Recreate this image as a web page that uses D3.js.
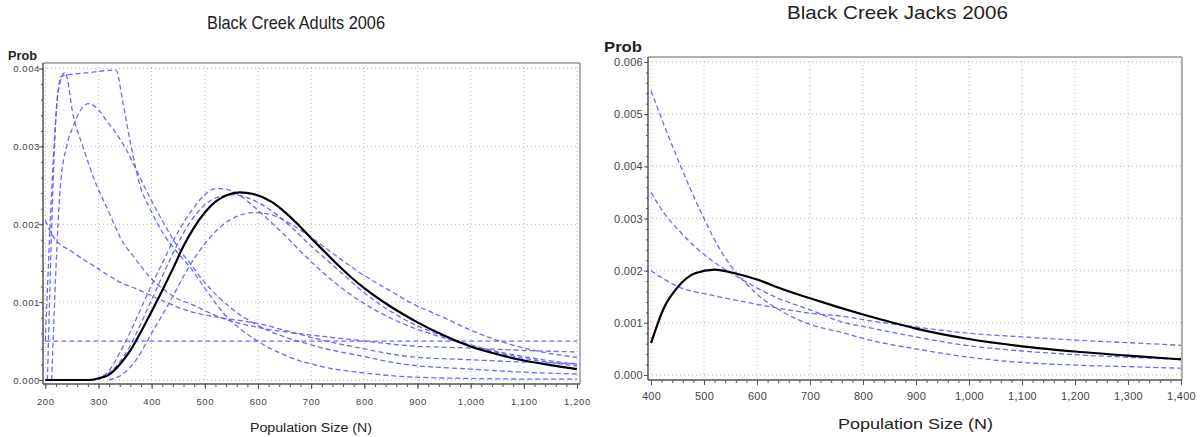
<!DOCTYPE html>
<html><head><meta charset="utf-8">
<script src="https://cdn.jsdelivr.net/npm/d3@7"></script>
<style>body{margin:0;background:#fff}svg{display:block}text{font-family:"Liberation Sans",Arial,sans-serif}</style>
</head><body>
<svg id="c" width="1200" height="437"></svg>
<script>
// ---------- DATA ----------
const titles = ["Black Creek Adults 2006", "Black Creek Jacks 2006"];
const yLabel = "Prob";
const xLabel = "Population Size (N)";

const adultsXTicks = [200,300,400,500,600,700,800,900,1000,1100,1200];
const adultsYTicks = [0,0.001,0.002,0.003,0.004];
const jacksXTicks = [400,500,600,700,800,900,1000,1100,1200,1300,1400];
const jacksYTicks = [0,0.001,0.002,0.003,0.004,0.005,0.006];

// posterior (black solid) - Adults
const adultsPosterior = [[200,0],[280,0],[300,0.00002],[320,0.00007],[340,0.0002],[360,0.00038],[380,0.00062],[400,0.00088],[420,0.00115],[440,0.00143],[460,0.00172],[480,0.00196],[500,0.00215],[520,0.00229],[540,0.00237],[566,0.00241],[590,0.00239],[625,0.00229],[650,0.00216],[675,0.002],[700,0.00182],[725,0.00165],[750,0.00148],[775,0.00132],[800,0.00118],[850,0.00094],[900,0.00074],[950,0.00057],[1000,0.00043],[1050,0.00033],[1100,0.00025],[1150,0.00019],[1200,0.00014]];

// priors / individual curves (blue dashed) - Adults
const adultsUniform = [[200,0.0005],[1200,0.0005]];
const adultsFlatTop = [[200,0.0005],[230,0.0039],[285,0.00395],[333,0.00398],[345,0.0036],[360,0.00305],[378,0.0025],[397,0.0022],[420,0.0019],[453,0.0016],[472,0.00145],[500,0.00118],[535,0.00086],[597,0.00051],[650,0.00032],[722,0.00017],[800,0.00009],[885,0.00004],[1000,0.00002],[1100,0.000012],[1200,0.00001]];
const adultsSpike = [[204,0],[224,0.0037],[237,0.00395],[253,0.00338],[271,0.00299],[293,0.00256],[320,0.00215],[341,0.00183],[370,0.00155],[397,0.00132],[425,0.00115],[453,0.00103],[472,0.00098],[530,0.0008],[597,0.00068],[660,0.00061],[722,0.00056],[800,0.0005],[885,0.00044],[1000,0.00041],[1100,0.00038],[1200,0.00036]];
const adultsEarlyPeak = [[212,0],[228,0.00246],[240,0.003],[252,0.00325],[265,0.00345],[281,0.00355],[300,0.00347],[315,0.00333],[335,0.00315],[353,0.00295],[378,0.0026],[400,0.0023],[428,0.00195],[453,0.00167],[472,0.0015],[500,0.00125],[550,0.00092],[600,0.0007],[700,0.00045],[800,0.0003],[867,0.00021],[1000,0.00014],[1100,0.0001],[1200,0.000077]];
const adultsDecline = [[200,0.00205],[214,0.00185],[252,0.00164],[297,0.00144],[334,0.00128],[378,0.00115],[410,0.00105],[472,0.00088],[530,0.0008],[597,0.00073],[660,0.00062],[722,0.00051],[800,0.0004],[885,0.0003],[1000,0.00026],[1100,0.00023],[1200,0.00021]];
const adultsBellA = [[280,0],[300,0.00003],[320,0.00012],[340,0.00035],[360,0.00062],[380,0.00092],[400,0.00122],[420,0.0015],[440,0.00178],[460,0.00202],[480,0.00222],[500,0.00238],[522,0.00246],[545,0.00244],[570,0.00235],[600,0.00218],[650,0.00186],[700,0.00152],[750,0.00122],[800,0.00098],[867,0.00074],[950,0.00054],[1000,0.00044],[1100,0.00028],[1200,0.00018]];
const adultsBellB = [[290,0],[310,0.00005],[330,0.00015],[350,0.00033],[370,0.00058],[390,0.00088],[410,0.00118],[430,0.00148],[450,0.00176],[470,0.002],[500,0.00225],[530,0.00236],[555,0.00238],[580,0.00234],[620,0.0022],[660,0.00198],[700,0.00172],[750,0.00142],[800,0.00112],[867,0.00081],[950,0.00056],[1000,0.00045],[1100,0.0003],[1200,0.0002]];
const adultsBellC = [[320,0],[340,0.00005],[370,0.00025],[400,0.0006],[434,0.001],[470,0.00145],[500,0.00175],[530,0.00197],[560,0.0021],[591,0.00215],[620,0.00213],[660,0.00201],[700,0.00183],[750,0.00158],[800,0.00134],[850,0.00114],[885,0.001],[950,0.0008],[1000,0.00064],[1050,0.00051],[1100,0.00041],[1150,0.00034],[1200,0.00029]];

// posterior (black solid) - Jacks
const jacksPosterior = [[400,0.00061],[425,0.0013],[450,0.00168],[483,0.00195],[520,0.00202],[558,0.00195],[600,0.00183],[650,0.00164],[700,0.00147],[750,0.00131],[800,0.00116],[850,0.00102],[900,0.00089],[1000,0.00069],[1100,0.00055],[1200,0.00045],[1300,0.00037],[1400,0.0003]];
// priors (blue dashed) - Jacks
const jacksSteep = [[400,0.00545],[425,0.00478],[450,0.00415],[475,0.00355],[500,0.003],[525,0.0025],[550,0.0021],[575,0.0018],[600,0.00155],[650,0.0012],[700,0.00097],[766,0.0008],[800,0.0007],[900,0.0005],[1000,0.00034],[1100,0.00024],[1200,0.00019],[1300,0.00016],[1400,0.00013]];
const jacksMid = [[400,0.0035],[425,0.0031],[450,0.0028],[483,0.00246],[514,0.0022],[552,0.00195],[596,0.00169],[640,0.00147],[700,0.00125],[766,0.001],[800,0.00093],[900,0.00073],[1000,0.00056],[1100,0.00046],[1200,0.00039],[1300,0.00034],[1400,0.0003]];
const jacksFlat = [[400,0.002],[452,0.00169],[514,0.00153],[577,0.0014],[640,0.00128],[703,0.00118],[766,0.00112],[800,0.00106],[900,0.00092],[1000,0.0008],[1100,0.00073],[1200,0.00067],[1300,0.00062],[1400,0.00057]];

// ---------- LAYOUT ----------
const charts = [
  { title: titles[0], titleX: 296, titleY: 29, titleSize: 19, titleLen: 178,
    probX: 8, probY: 60, probSize: 12, probLen: 29,
    xlabX: 311, xlabY: 432, xlabSize: 12.5, xlabLen: 122,
    xDomain: [200,1200], xRange: [45.3,577], yDomain: [0,0.004], yRange: [380,68.5],
    frame: {l:43, r:580, t:63, b:384},
    xTicks: adultsXTicks, yTicks: adultsYTicks, xMinorStep: 20, yMinorStep: 0.0002,
    tickFont: 9.5, tickLS: 0.6, xLabOff: 21, yLabOff: 3,
    posterior: adultsPosterior,
    priors: [adultsUniform, adultsFlatTop, adultsSpike, adultsEarlyPeak, adultsDecline, adultsBellA, adultsBellB, adultsBellC] },
  { title: titles[1], titleX: 897.5, titleY: 19, titleSize: 19, titleLen: 221,
    probX: 604, probY: 52, probSize: 14, probLen: 38,
    xlabX: 915.5, xlabY: 429, xlabSize: 15, xlabLen: 155,
    xDomain: [400,1400], xRange: [651,1181], yDomain: [0,0.006], yRange: [375,62],
    frame: {l:648, r:1182, t:57, b:380},
    xTicks: jacksXTicks, yTicks: jacksYTicks, xMinorStep: 20, yMinorStep: 0.0002,
    tickFont: 11, tickLS: 0.3, xLabOff: 20, yLabOff: 5,
    posterior: jacksPosterior,
    priors: [jacksSteep, jacksMid, jacksFlat] }
];

const svg = d3.select("#c");

charts.forEach(c => {
  const g = svg.append("g");
  const x = d3.scaleLinear().domain(c.xDomain).range(c.xRange);
  const y = d3.scaleLinear().domain(c.yDomain).range(c.yRange);
  const f = c.frame;

  // grid
  g.append("g").selectAll("line").data(c.xTicks).join("line")
    .attr("x1", d => x(d)).attr("x2", d => x(d)).attr("y1", f.t).attr("y2", f.b)
    .attr("stroke", "#b5b5b5").attr("stroke-dasharray", "1,3");
  g.append("g").selectAll("line").data(c.yTicks).join("line")
    .attr("y1", d => y(d)).attr("y2", d => y(d)).attr("x1", f.l).attr("x2", f.r)
    .attr("stroke", "#b5b5b5").attr("stroke-dasharray", "1,3");

  // frame
  g.append("line").attr("x1", f.l).attr("x2", f.r).attr("y1", f.t).attr("y2", f.t).attr("stroke", "#999").attr("stroke-width", 1.5);
  g.append("line").attr("x1", f.r).attr("x2", f.r).attr("y1", f.t).attr("y2", f.b).attr("stroke", "#999").attr("stroke-width", 1.5);
  g.append("line").attr("x1", f.l).attr("x2", f.l).attr("y1", f.t).attr("y2", f.b).attr("stroke", "#555").attr("stroke-width", 1.5);
  g.append("line").attr("x1", f.l).attr("x2", f.r).attr("y1", f.b).attr("y2", f.b).attr("stroke", "#555").attr("stroke-width", 1.5);

  // x axis
  const xMinor = d3.range(c.xDomain[0], c.xDomain[1] + 0.001, c.xMinorStep);
  const xmin = g.append("g").attr("transform", `translate(0,${f.b})`)
    .call(d3.axisBottom(x).tickValues(xMinor).tickSize(3).tickFormat(""));
  xmin.select(".domain").remove();
  xmin.selectAll("line").attr("stroke", "#555");
  const xa = g.append("g").attr("transform", `translate(0,${f.b})`)
    .call(d3.axisBottom(x).tickValues(c.xTicks).tickSize(5).tickFormat(d3.format(",")));
  xa.select(".domain").remove();
  xa.selectAll("line").attr("stroke", "#555");
  xa.selectAll("text").attr("y", c.xLabOff).attr("dy", 0)
    .attr("font-family", '"Liberation Sans",Arial,sans-serif').attr("font-size", c.tickFont)
    .attr("letter-spacing", c.tickLS).attr("fill", "#444");

  // y axis
  const yMinor = d3.range(c.yDomain[0], c.yDomain[1] + 1e-9, c.yMinorStep);
  const ymin = g.append("g").attr("transform", `translate(${f.l},0)`)
    .call(d3.axisLeft(y).tickValues(yMinor).tickSize(2).tickFormat(""));
  ymin.select(".domain").remove();
  ymin.selectAll("line").attr("stroke", "#555");
  const ya = g.append("g").attr("transform", `translate(${f.l},0)`)
    .call(d3.axisLeft(y).tickValues(c.yTicks).tickSize(4).tickFormat(d3.format(".3f")));
  ya.select(".domain").remove();
  ya.selectAll("line").attr("stroke", "#555");
  ya.selectAll("text").attr("x", -c.yLabOff)
    .attr("font-family", '"Liberation Sans",Arial,sans-serif').attr("font-size", c.tickFont)
    .attr("letter-spacing", c.tickLS).attr("fill", "#444");

  // curves
  const line = d3.line().x(d => x(d[0])).y(d => y(d[1])).curve(d3.curveMonotoneX);
  g.append("g").selectAll("path").data(c.priors).join("path")
    .attr("d", line).attr("fill", "none").attr("stroke", "#5a5aff").attr("stroke-opacity", 0.9)
    .attr("stroke-width", 1.3).attr("stroke-dasharray", "5,3");
  g.append("path").datum(c.posterior).attr("d", line).attr("fill", "none")
    .attr("stroke", "#000").attr("stroke-width", 2.2);

  // texts
  g.append("text").attr("x", c.titleX).attr("y", c.titleY).attr("text-anchor", "middle")
    .attr("font-size", c.titleSize).attr("fill", "#222")
    .attr("textLength", c.titleLen).attr("lengthAdjust", "spacingAndGlyphs").text(c.title);
  g.append("text").attr("x", c.probX).attr("y", c.probY).attr("font-size", c.probSize)
    .attr("font-weight", "bold").attr("fill", "#222")
    .attr("textLength", c.probLen).attr("lengthAdjust", "spacingAndGlyphs").text(yLabel);
  g.append("text").attr("x", c.xlabX).attr("y", c.xlabY).attr("text-anchor", "middle")
    .attr("font-size", c.xlabSize).attr("fill", "#222")
    .attr("textLength", c.xlabLen).attr("lengthAdjust", "spacingAndGlyphs").text(xLabel);
});
</script>
</body></html>
